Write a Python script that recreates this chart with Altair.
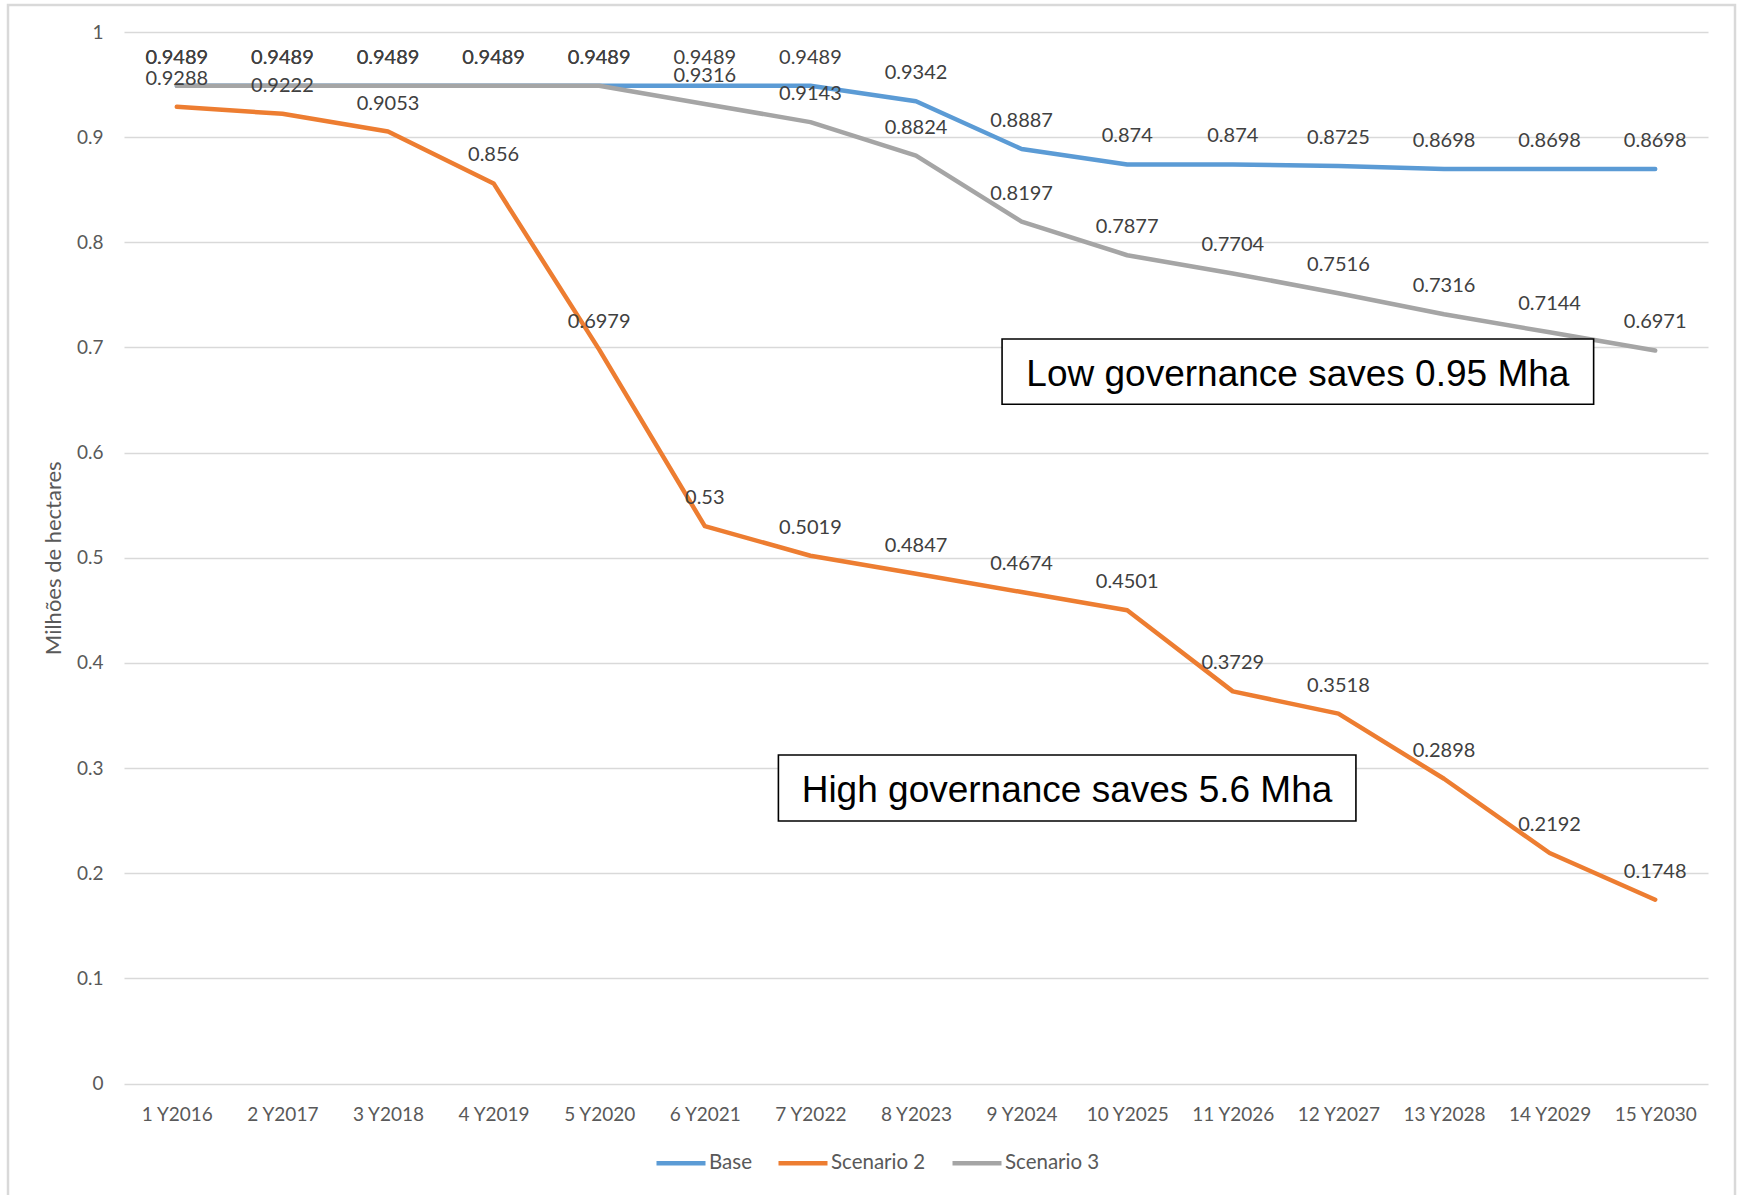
import altair as alt
import pandas as pd

# Period labels along the x axis
categories = [
    "1 Y2016", "2 Y2017", "3 Y2018", "4 Y2019", "5 Y2020",
    "6 Y2021", "7 Y2022", "8 Y2023", "9 Y2024", "10 Y2025",
    "11 Y2026", "12 Y2027", "13 Y2028", "14 Y2029", "15 Y2030",
]

# Remaining area (million hectares) per scenario
base = [0.9489, 0.9489, 0.9489, 0.9489, 0.9489, 0.9489, 0.9489, 0.9342,
        0.8887, 0.874, 0.874, 0.8725, 0.8698, 0.8698, 0.8698]
scenario2 = [0.9288, 0.9222, 0.9053, 0.856, 0.6979, 0.53, 0.5019, 0.4847,
             0.4674, 0.4501, 0.3729, 0.3518, 0.2898, 0.2192, 0.1748]
scenario3 = [0.9489, 0.9489, 0.9489, 0.9489, 0.9489, 0.9316, 0.9143, 0.8824,
             0.8197, 0.7877, 0.7704, 0.7516, 0.7316, 0.7144, 0.6971]

series_names = ["Base", "Scenario 2", "Scenario 3"]
series_colors = ["#5B9BD5", "#ED7D31", "#A5A5A5"]

rows = []
for name, vals in zip(series_names, [base, scenario2, scenario3]):
    for i, v in enumerate(vals):
        rows.append({"idx": i + 1, "series": name, "value": v, "label": str(v)})
df = pd.DataFrame(rows)

# Callout boxes, placed in data space (x = period index, y = value)
notes = pd.DataFrame([
    {"x1": 8.815, "x2": 14.417, "y1": 0.708, "y2": 0.646,
     "xc": 11.616, "yc": 0.674, "text": "Low governance saves 0.95 Mha"},
    {"x1": 6.697, "x2": 12.166, "y1": 0.3124, "y2": 0.2496,
     "xc": 9.43, "yc": 0.278, "text": "High governance saves 5.6 Mha"},
])

W, H = 1584, 1051.5
FONT = "Lato"
AXIS_GREY = "#595959"
GRID = "#D9D9D9"

label_expr = "[" + ",".join(f"'{c}'" for c in categories) + "][datum.value - 1]"

x_scale = alt.Scale(domain=[0.5, 15.5], nice=False, zero=False)
y_scale = alt.Scale(domain=[0, 1], nice=False)

x_axis = alt.Axis(
    values=list(range(1, 16)), labelExpr=label_expr, title=None,
    grid=False, domain=False, ticks=False, labelFont=FONT,
    labelFontSize=19, labelColor=AXIS_GREY, labelPadding=22,
)
y_axis = alt.Axis(
    values=[round(i / 10, 1) for i in range(11)], format="~g",
    title="Milhões de hectares", titleFont=FONT, titleFontSize=22,
    titleColor=AXIS_GREY, titleFontWeight="normal", titleX=-71,
    titleY=H / 2, titleAngle=270, titleBaseline="middle",
    grid=True, gridColor=GRID, gridWidth=1.3, domain=False, ticks=False,
    labelFont=FONT, labelFontSize=19, labelColor=AXIS_GREY, labelPadding=21,
)

frame = alt.Chart(pd.DataFrame({"k": [0]})).mark_rect(
    fill=None, stroke=GRID, strokeWidth=2.5
).encode(
    x=alt.value(-116), x2=alt.value(1611),
    y=alt.value(-27), y2=alt.value(H + 140),
)

lines = alt.Chart(df).mark_line(
    strokeWidth=4.5, strokeCap="round", strokeJoin="round"
).encode(
    x=alt.X("idx:Q", scale=x_scale, axis=x_axis),
    y=alt.Y("value:Q", scale=y_scale, axis=y_axis),
    color=alt.Color(
        "series:N",
        scale=alt.Scale(domain=series_names, range=series_colors),
        legend=alt.Legend(
            orient="none", legendX=530, legendY=1104, direction="horizontal",
            title=None, symbolType="stroke", symbolSize=2401,
            symbolStrokeWidth=4.5, labelFont=FONT, labelFontSize=20.5,
            labelColor=AXIS_GREY, labelOffset=1, columnPadding=17,
        ),
    ),
    detail="series:N",
)

labels = alt.Chart(df).mark_text(
    dy=-28, font=FONT, fontSize=20, color="#404040"
).encode(
    x=alt.X("idx:Q", scale=x_scale),
    y=alt.Y("value:Q", scale=y_scale),
    text="label:N",
)

boxes = alt.Chart(notes).mark_rect(
    fill="white", stroke="black", strokeWidth=1.6
).encode(
    x=alt.X("x1:Q", scale=x_scale), x2="x2:Q",
    y=alt.Y("y1:Q", scale=y_scale), y2="y2:Q",
)

box_text = alt.Chart(notes).mark_text(
    font="Liberation Sans", fontSize=37, color="black"
).encode(
    x=alt.X("xc:Q", scale=x_scale),
    y=alt.Y("yc:Q", scale=y_scale),
    text="text:N",
)

chart = alt.layer(frame, lines, labels, boxes, box_text).properties(
    width=W, height=H,
    autosize=alt.AutoSizeParams(type="none"),
    padding={"left": 124, "top": 32, "right": 31, "bottom": 111.5},
    background="white",
).configure_view(stroke=None)

chart.save("out.html", embed_options={"renderer": "svg", "actions": False})
